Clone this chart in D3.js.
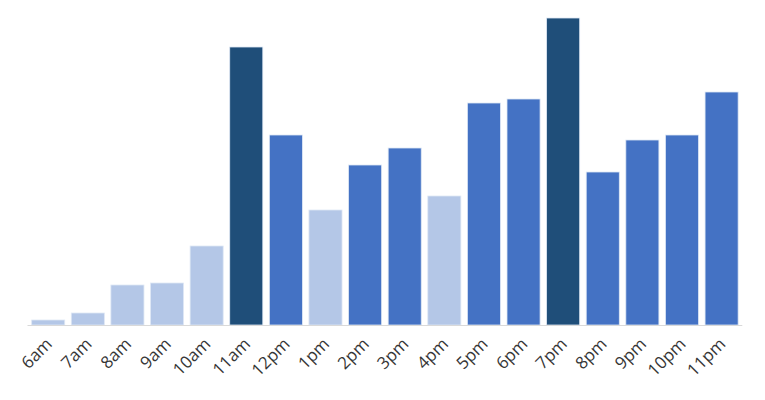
<!DOCTYPE html>
<html>
<head>
<meta charset="utf-8">
<script src="https://cdn.jsdelivr.net/npm/d3@7"></script>
<style>
  body { margin: 0; background: #fff; }
  svg { display: block; }
  .tick text { font-family: "Open Sans", sans-serif; font-size: 17px; fill: #363636; }
</style>
</head>
<body>
<svg width="765" height="400"></svg>
<script>
  const hours = ["6am", "7am", "8am", "9am", "10am", "11am", "12pm", "1pm", "2pm",
    "3pm", "4pm", "5pm", "6pm", "7pm", "8pm", "9pm", "10pm", "11pm"];
  const counts = [5, 12, 40, 42, 79, 278, 190, 115, 160, 177, 129, 222, 226, 307, 153, 185, 190, 233];
  // low / mid / peak shading per hour
  const levels = ["low", "low", "low", "low", "low", "peak", "mid", "low", "mid",
    "mid", "low", "mid", "mid", "peak", "mid", "mid", "mid", "mid"];

  const data = hours.map((h, i) => ({ hour: h, count: counts[i], level: levels[i] }));

  const svg = d3.select("svg");
  const baseY = 325;

  const x = d3.scaleBand()
    .domain(hours)
    .range([28.5, 741.3])
    .paddingInner(0.165)
    .paddingOuter(0.08);

  const y = d3.scaleLinear()
    .domain([0, 307])
    .range([baseY, 18]);

  const color = d3.scaleOrdinal()
    .domain(["low", "mid", "peak"])
    .range(["#b4c7e7", "#4472c4", "#1f4e79"]);

  svg.append("g")
    .selectAll("rect")
    .data(data)
    .join("rect")
    .attr("x", (d) => x(d.hour))
    .attr("y", (d) => y(d.count))
    .attr("width", x.bandwidth())
    .attr("height", (d) => baseY - y(d.count))
    .attr("fill", (d) => color(d.level))
    .attr("stroke", "#dfe8f5")
    .attr("stroke-width", 0.8);

  const xAxis = svg.append("g")
    .attr("transform", `translate(0,${baseY})`)
    .call(d3.axisBottom(x).tickSize(0).tickSizeOuter(0).tickPadding(0));

  xAxis.select(".domain")
    .attr("stroke", "#d9d9d9")
    .attr("stroke-width", 1)
    .attr("d", `M${x.range()[0] - 1},0.5H${x.range()[1] + 1}`);

  xAxis.selectAll(".tick text")
    .attr("text-anchor", "end")
    .attr("dy", null)
    .attr("y", 0)
    .attr("transform", "translate(5,20) rotate(-45)");
</script>
</body>
</html>
